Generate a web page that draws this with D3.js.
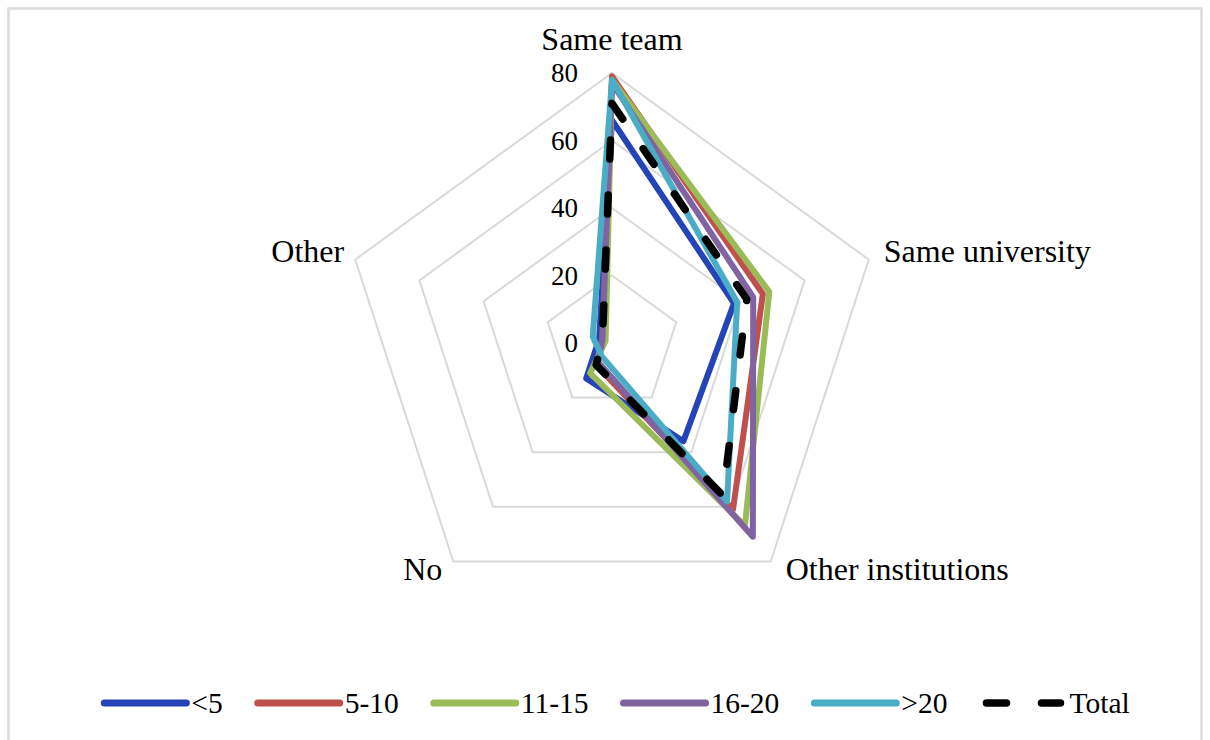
<!DOCTYPE html>
<html>
  <head>
    <script src="https://d3js.org/d3.v7.min.js"></script>
    <style>
      body { margin: 0; background: #fff; }
      text { font-family: "Liberation Serif", "Times New Roman", serif; fill: #000; }
    </style>
  </head>
  <body>
    <svg width="1210" height="740"></svg>
    <script>
      // categories, clockwise from the top
      var categories = ["Same team", "Same university", "Other institutions", "No", "Other"];
      var ticks = [0, 20, 40, 60, 80];

      var seriesNames = ["<5", "5-10", "11-15", "16-20", ">20", "Total"];
      var under5 = [66, 38, 36, 13, 4];
      var from5to10 = [79, 47, 61, 8, 3];
      var from11to15 = [78, 49, 67, 11, 2];
      var from16to20 = [77, 44, 71, 7, 3];
      var over20 = [78, 39, 58, 5, 6];
      var total = [71, 42, 56, 8, 3];
      var seriesValues = [under5, from5to10, from11to15, from16to20, over20, total];
      var colors = ["#2544B8", "#C0504D", "#9BBB59", "#8064A2", "#4BACC6", "#000000"];

      var svg = d3.select("svg");

      // light frame round the chart area
      svg.append("rect")
        .attr("x", 8.5).attr("y", 8.5)
        .attr("width", 1193).attr("height", 780)
        .style("fill", "none")
        .style("stroke", "#DCDCDC")
        .style("stroke-width", 2.5);

      var cx = 612, cy = 343;
      var r = d3.scaleLinear().domain([0, 80]).range([0, 270]);
      var angle = d3.scaleLinear().domain([0, categories.length]).range([0, 2 * Math.PI]);

      var g = svg.append("g").attr("transform", "translate(" + cx + "," + cy + ")");

      var radial = d3.lineRadial()
        .angle(function (d, i) { return angle(i); })
        .radius(function (d) { return r(d); })
        .curve(d3.curveLinearClosed);

      // grid pentagons
      g.selectAll(".ring")
        .data(ticks.slice(1))
        .enter()
        .append("path")
        .attr("class", "ring")
        .attr("d", function (t) { return radial(categories.map(function () { return t; })); })
        .style("fill", "none")
        .style("stroke", "#D9D9D9")
        .style("stroke-width", 2);

      // tick labels
      g.selectAll(".tick")
        .data(ticks)
        .enter()
        .append("text")
        .attr("x", -34)
        .attr("y", function (t) { return -r(t); })
        .attr("dy", "0.35em")
        .attr("text-anchor", "end")
        .style("font-size", "27px")
        .text(function (t) { return t; });

      // series
      seriesValues.forEach(function (vals, k) {
        var p = g.append("path")
          .datum(vals)
          .attr("d", radial)
          .style("fill", "none")
          .style("stroke", colors[k])
          .style("stroke-width", k == 5 ? 7.5 : 6)
          .style("stroke-linejoin", "round");
        if (k == 5) p.style("stroke-dasharray", "19,36").style("stroke-linecap", "round");
      });

      // category labels
      categories.forEach(function (c, i) {
        var a = angle(i);
        var sx = Math.sin(a), sy = -Math.cos(a);
        var px = r(80) * sx, py = r(80) * sy;
        var anchor = Math.abs(sx) < 0.1 ? "middle" : (sx > 0 ? "start" : "end");
        var dx = Math.abs(sx) < 0.1 ? 0 : (sx > 0 ? 15 : -11);
        var dy = sy < -0.9 ? -23 : (sy < 0 ? 2 : 19);
        g.append("text")
          .attr("x", px + dx)
          .attr("y", py + dy)
          .attr("text-anchor", anchor)
          .style("font-size", "32px")
          .text(c);
      });

      // legend
      var legend = svg.append("g").attr("transform", "translate(0,703)");
      var lineLen = 82, x = 0;
      var items = seriesNames.map(function (name, k) {
        var it = legend.append("g");
        var ln = it.append("line")
          .attr("x1", 0).attr("x2", lineLen)
          .attr("y1", 0).attr("y2", 0)
          .style("stroke", colors[k])
          .style("stroke-width", 7)
          .style("stroke-linecap", "round");
        if (k == 5) ln.attr("x1", 4).attr("x2", lineLen - 4).style("stroke-dasharray", "20,35").style("stroke-width", 7.5);
        var t = it.append("text")
          .attr("x", lineLen + 5)
          .attr("dy", "0.33em")
          .style("font-size", "29.5px")
          .text(name);
        return { g: it, w: lineLen + 5 + t.node().getComputedTextLength() };
      });
      var gap = 35;
      var totalW = d3.sum(items, function (d) { return d.w; }) + gap * (items.length - 1);
      x = 617 - totalW / 2;
      items.forEach(function (d) {
        d.g.attr("transform", "translate(" + x + ",0)");
        x += d.w + gap;
      });
    </script>
  </body>
</html>
